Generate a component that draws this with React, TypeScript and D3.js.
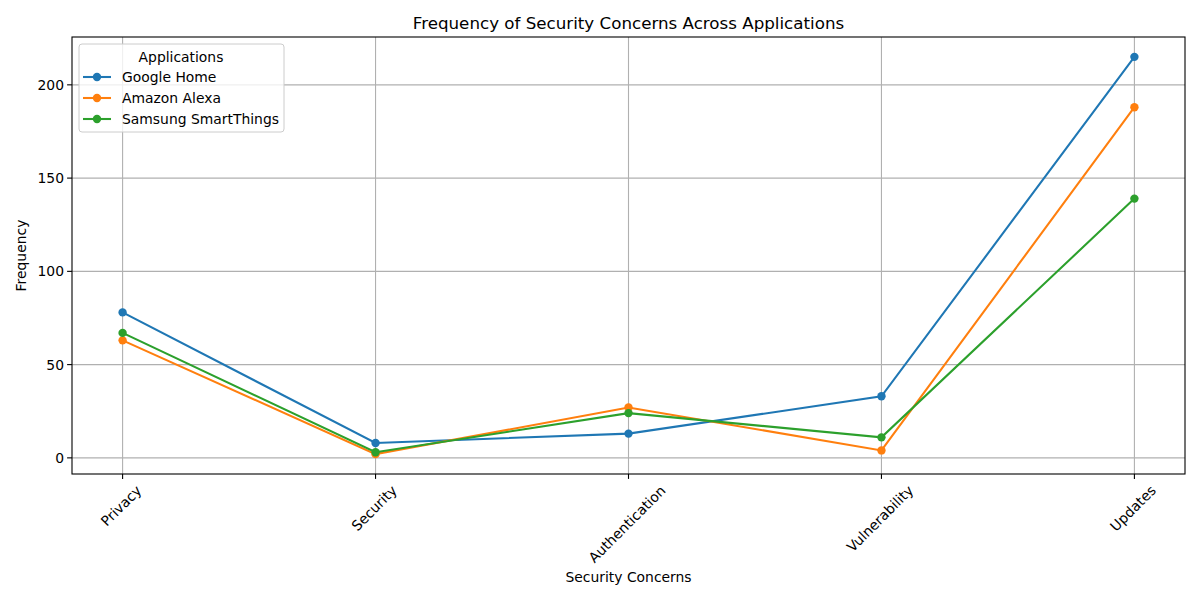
import * as d3 from "d3";
import { useEffect, useRef } from "react";

const concerns = ["Privacy", "Security", "Authentication", "Vulnerability", "Updates"];
const googleHome = [78, 8, 13, 33, 215];
const amazonAlexa = [63, 2, 27, 4, 188];
const samsungSmartThings = [67, 3, 24, 11, 139];
const seriesNames = ["Google Home", "Amazon Alexa", "Samsung SmartThings"];
const seriesColors = ["#1f77b4", "#ff7f0e", "#2ca02c"];
const yTicks = [0, 50, 100, 150, 200];

const W = 1200;
const H = 600;
const FONT = "DejaVu Sans, sans-serif";

export default function App() {
    const svgRef = useRef<SVGSVGElement | null>(null);

    useEffect(() => {
        const svg = d3.select(svgRef.current);
        svg.selectAll("*").remove();

        const left = 72, right = 1185, top = 37, bottom = 474;
        const series = [googleHome, amazonAlexa, samsungSmartThings];

        const allVals = series.flat();
        const lo = d3.min(allVals)!, hi = d3.max(allVals)!;
        const pad = (hi - lo) * 0.05;

        const x = d3.scaleLinear().domain([-0.2, concerns.length - 1 + 0.2]).range([left, right]);
        const y = d3.scaleLinear().domain([lo - pad, hi + pad]).range([bottom, top]);

        svg.append("rect").attr("width", W).attr("height", H).attr("fill", "#fff");

        // grid
        const grid = svg.append("g").attr("stroke", "#b0b0b0").attr("stroke-width", 1.1);
        concerns.forEach((_, i) => {
            grid.append("line").attr("x1", x(i)).attr("x2", x(i)).attr("y1", top).attr("y2", bottom);
        });
        yTicks.forEach((t) => {
            grid.append("line").attr("x1", left).attr("x2", right).attr("y1", y(t)).attr("y2", y(t));
        });

        // lines
        const line = d3.line<number>().x((_, i) => x(i)).y((d) => y(d));
        series.forEach((s, k) => {
            svg.append("path").attr("d", line(s)).attr("fill", "none")
                .attr("stroke", seriesColors[k]).attr("stroke-width", 2.08);
            svg.append("g").selectAll("circle").data(s).join("circle")
                .attr("cx", (_, i) => x(i)).attr("cy", (d) => y(d)).attr("r", 4.2)
                .attr("fill", seriesColors[k]);
        });

        // frame
        svg.append("rect").attr("x", left).attr("y", top).attr("width", right - left)
            .attr("height", bottom - top).attr("fill", "none").attr("stroke", "#000").attr("stroke-width", 1.1);

        // y ticks
        yTicks.forEach((t) => {
            svg.append("line").attr("x1", left - 4.9).attr("x2", left).attr("y1", y(t)).attr("y2", y(t))
                .attr("stroke", "#000").attr("stroke-width", 1.1);
            svg.append("text").attr("x", left - 8).attr("y", y(t)).attr("text-anchor", "end")
                .attr("dominant-baseline", "central").attr("font-family", FONT).attr("font-size", 13.9)
                .attr("fill", "#000").text(t);
        });

        // x ticks with rotated labels
        concerns.forEach((c, i) => {
            svg.append("line").attr("x1", x(i)).attr("x2", x(i)).attr("y1", bottom).attr("y2", bottom + 4.9)
                .attr("stroke", "#000").attr("stroke-width", 1.1);
            const txt = svg.append("text").attr("font-family", FONT).attr("font-size", 13.9)
                .attr("fill", "#000").attr("text-anchor", "middle").attr("dominant-baseline", "central").text(c);
            const w = (txt.node() as SVGTextElement).getComputedTextLength();
            const h = 13.9;
            const half = (w + h) / (2 * Math.SQRT2);
            const cy = bottom + 9 + half;
            txt.attr("transform", `translate(${x(i) - 1.5},${cy}) rotate(-45)`);
        });

        // axis labels
        svg.append("text").attr("x", (left + right) / 2).attr("y", 582).attr("text-anchor", "middle")
            .attr("font-family", FONT).attr("font-size", 13.9).text("Security Concerns");
        svg.append("text").attr("transform", `translate(26,${(top + bottom) / 2}) rotate(-90)`)
            .attr("text-anchor", "middle").attr("font-family", FONT).attr("font-size", 13.9).text("Frequency");

        // title
        svg.append("text").attr("x", (left + right) / 2).attr("y", 29).attr("text-anchor", "middle")
            .attr("font-family", FONT).attr("font-size", 16.7).text("Frequency of Security Concerns Across Applications");

        // legend
        const lg = svg.append("g");
        lg.append("rect").attr("x", 79).attr("y", 44).attr("width", 205).attr("height", 88).attr("rx", 3)
            .attr("fill", "#fff").attr("fill-opacity", 0.8).attr("stroke", "#ccc").attr("stroke-width", 1);
        lg.append("text").attr("x", 181).attr("y", 57).attr("text-anchor", "middle").attr("dominant-baseline", "central")
            .attr("font-family", FONT).attr("font-size", 13.9).text("Applications");
        seriesNames.forEach((n, k) => {
            const ly = 77 + k * 21;
            lg.append("line").attr("x1", 83).attr("x2", 111).attr("y1", ly).attr("y2", ly)
                .attr("stroke", seriesColors[k]).attr("stroke-width", 2.08);
            lg.append("circle").attr("cx", 97).attr("cy", ly).attr("r", 4.2).attr("fill", seriesColors[k]);
            lg.append("text").attr("x", 122).attr("y", ly).attr("dominant-baseline", "central")
                .attr("font-family", FONT).attr("font-size", 13.9).text(n);
        });
    }, []);

    return <svg ref={svgRef} width={W} height={H} style={{ display: "block", position: "absolute", left: 0, top: 0 }} />;
}
